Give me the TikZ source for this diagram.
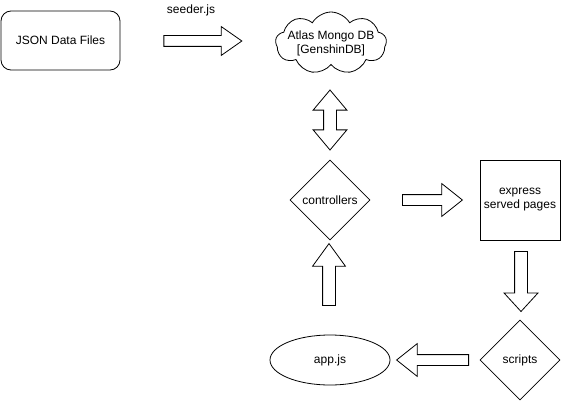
\documentclass[tikz,border=0pt]{standalone}
\usepackage{fontspec}
\setmainfont{Liberation Sans}
\usetikzlibrary{shapes.geometric, shapes.arrows, shapes.symbols}

\tikzset{
    fatarrow/.style={draw, single arrow, inner xsep=0pt, shape border uses incircle=false},
    twoarrow/.style={draw, double arrow, inner xsep=0pt},
}

\begin{document}
\begin{tikzpicture}[x=1pt, y=-1pt, font=\fontsize{12}{14}\selectfont, line width=0.8pt]
    \useasboundingbox (0,0) rectangle (561,401);

    \node (json) [draw, rounded corners=10pt, minimum width=119pt, minimum height=59pt] at (60.5,40.5) {JSON Data Files};
    \node (seeder) [fatarrow, minimum height=78pt, inner ysep=5pt, single arrow head extend=9pt, single arrow tip angle=70] at (199,41) {};
    \node (seedlbl) at (191,10) {seeder.js};
    \node (mongo) [draw, cloud, cloud puffs=9, cloud puff arc=120, cloud ignores aspect, inner sep=-8pt, minimum width=111pt, minimum height=62pt, align=center] at (331,43) {Atlas Mongo DB\\{[GenshinDB]}};

    \node (dbarrow) [twoarrow, rotate=90, minimum height=60pt, inner ysep=6pt, double arrow head extend=10.5pt, double arrow tip angle=80] at (330,120) {};

    \node (ctrl) [draw, diamond, inner sep=1pt, minimum width=80pt, minimum height=80pt] at (330,200) {controllers};
    \node (ctrlarrow) [fatarrow, minimum height=60pt, inner ysep=5pt, single arrow head extend=11pt, single arrow tip angle=77] at (429,200) {};
    \node (pages) [draw, minimum size=80pt, align=center] at (520,200) {express\\served pages};

    \node (downarrow) [fatarrow, rotate=-90, minimum height=60pt, inner ysep=6pt, single arrow head extend=10.5pt, single arrow tip angle=85] at (521,278) {};
    \node (scripts) [draw, diamond, inner sep=1pt, minimum width=80pt, minimum height=80pt] at (520,360) {scripts};

    \node (leftarrow) [fatarrow, rotate=180, minimum height=72pt, inner ysep=5pt, single arrow head extend=11pt, single arrow tip angle=77] at (436,360) {};
    \node (app) [draw, ellipse, minimum width=120pt, minimum height=50pt] at (330,360) {app.js};

    \node (uparrow) [fatarrow, rotate=90, minimum height=62pt, inner ysep=6pt, single arrow head extend=10pt, single arrow tip angle=72] at (329,279) {};
\end{tikzpicture}
\end{document}
